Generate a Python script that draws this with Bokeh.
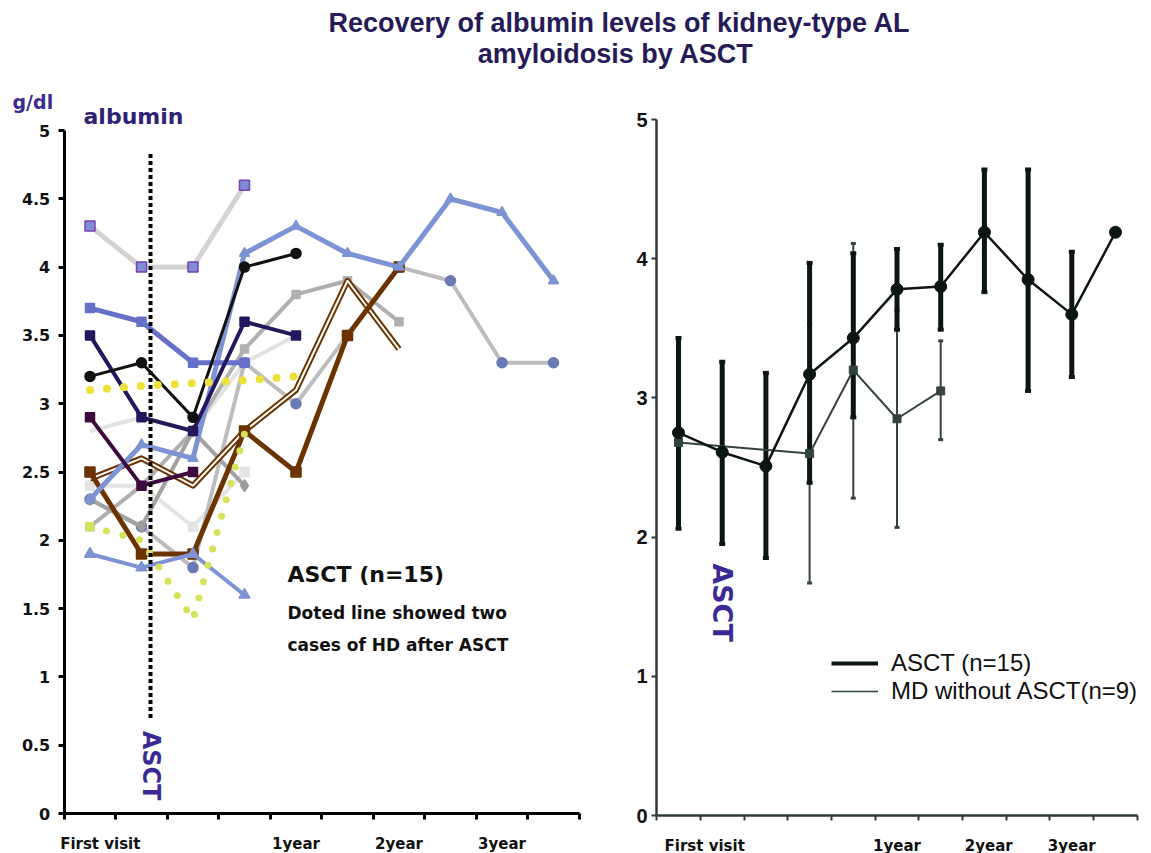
import math
from bokeh.plotting import figure
from bokeh.models import (Range1d, FixedTicker, NumeralTickFormatter, Label, Legend,
                          LegendItem, Whisker, TeeHead, ColumnDataSource)
from bokeh.layouts import column, row
from bokeh.embed import file_html
from bokeh.resources import INLINE
from bokeh.core.properties import value

# ------------------------------------------------------------------ data
TITLE_LINES = ["Recovery of albumin levels of kidney-type AL", "amyloidosis  by ASCT"]

# left panel: individual patients (albumin g/dl per visit slot, starting at first visit)
L_TICK_LABELS = ["First visit", "1year", "2year", "3year"]
L_TICK_POS = [0.2, 4, 6, 8]
L_SLOTS = 10

pt_lavender = [4.3, 4.0, 4.0, 4.6]
pt_violet = [3.7, 3.6, 3.3, 3.3]
pt_skyblue_long = [2.3, 2.7, 2.6, 4.1, 4.3, 4.1, 4.0, 4.5, 4.4, 3.9]
pt_skyblue_low = [1.9, 1.8, 1.9, 1.6]
pt_black = [3.2, 3.3, 2.9, 4.0, 4.1]
pt_navy = [3.5, 2.9, 2.8, 3.6, 3.5]
pt_pale = [2.8, 2.9, 2.8, 3.3, 3.5]
pt_plum = [2.9, 2.4, 2.5]
pt_pale2 = [2.4, 2.4, 2.1, 2.5]
pt_brown = [2.5, 1.9, 1.9, 2.8, 2.5, 3.5, 4.0]
pt_brown_double = [2.45, 2.6, 2.4, 2.8, 3.1, 3.9, 3.4]
pt_gray_diamond = [2.3, 2.1, 2.8, 2.4]
pt_gray_circle = [2.3, 2.1, 1.8, 3.3, 3.0, 3.5, 4.0, 3.9, 3.3, 3.3]
pt_gray_square = [2.1, 2.4, 2.8, 3.4, 3.8, 3.9, 3.6]
hd_yellow = [3.1, 3.13, 3.15, 3.17, 3.2]
hd_lime = [2.1, 2.0, 1.42, 2.78]

ASCT_AT = 1.175
ASCT_SPAN = [0.7, 4.85]

# right panel: mean with range bars
R_TICK_LABELS = ["First visit", "1year", "2year", "3year"]
R_TICK_POS = [0.6, 5.0, 7.1, 9.0]
R_SLOTS = 11

asct_x = [0, 1, 2, 3, 4, 5, 6, 7, 8, 9, 10]
asct_mean = [2.75, 2.61, 2.51, 3.17, 3.43, 3.78, 3.80, 4.19, 3.85, 3.60, 4.19]
asct_err_x = [0, 1, 2, 3, 4, 5, 6, 7, 8, 9]
asct_upper = [3.43, 3.26, 3.18, 3.97, 4.04, 4.07, 4.10, 4.64, 4.64, 4.05]
asct_lower = [2.06, 1.95, 1.85, 2.39, 2.86, 3.49, 3.49, 3.76, 3.05, 3.15]

md_x = [0, 3, 4, 5, 6]
md_mean = [2.68, 2.60, 3.20, 2.85, 3.05]
md_upper = [3.24, 3.53, 4.11, 3.63, 3.41]
md_lower = [2.10, 1.67, 2.28, 2.07, 2.70]

LEGEND_LABELS = ["ASCT (n=15)", "MD without ASCT(n=9)"]

# ------------------------------------------------------------------ styles
TITLE_COLOR = "#261B57"
PURPLE = "#3B2A93"
TAHOMA = "DejaVu Sans"
TOTAL_W, TOTAL_H, TITLE_H = 1151, 853, 70
LEFT_W = 620
CH_H = TOTAL_H - TITLE_H

# ------------------------------------------------------------------ title
pt = figure(width=TOTAL_W, height=TITLE_H, x_range=Range1d(0, TOTAL_W), y_range=Range1d(0, TITLE_H),
            toolbar_location=None, output_backend="svg", min_border=0)
pt.axis.visible = False
pt.grid.visible = False
pt.outline_line_color = None
pt.title.visible = False
pt.text(x=[619, 619], y=[48, 17], text=TITLE_LINES, text_font=value("Liberation Sans"),
        text_font_style="bold", text_font_size="27px", text_color=TITLE_COLOR,
        text_align="center", text_baseline="middle")

# ------------------------------------------------------------------ left
# screen mapping: x px = 89.5 + 51.5*slot ; y px (page) = 813 - 136.6*value
LX0, LXS, LY0, LYS = 89.5, 51.5, 813.0, 136.6
pl = figure(width=LEFT_W, height=CH_H,
            x_range=Range1d(-LX0 / LXS, (LEFT_W - LX0) / LXS),
            y_range=Range1d((LY0 - TOTAL_H) / LYS, (LY0 - TITLE_H) / LYS),
            toolbar_location=None, output_backend="svg", min_border=0)
pl.grid.visible = False
pl.outline_line_color = None
pl.title.visible = False


def draw(p, vals, color, width, marker=None, msize=9, fill=None, mline=None, dash="solid", cap="butt"):
    xs = list(range(len(vals)))
    p.line(xs, vals, line_color=color, line_width=width, line_dash=dash, line_cap=cap,
           line_join="round")
    if marker:
        p.scatter(xs, vals, marker=marker, size=msize, fill_color=fill or color,
                  line_color=mline or (fill or color), line_width=1.5)


draw(pl, pt_pale, "#E2E2E2", 4)
draw(pl, pt_pale2, "#E4E4E4", 4, "square", 9, "#E4E4E4")
draw(pl, pt_gray_circle, "#BDBDBD", 4, "circle", 10, "#6A7AB5")
draw(pl, pt_gray_square, "#B0B0B0", 4, "square", 8, "#B0B0B0")
draw(pl, pt_gray_diamond, "#A2A2A2", 4, "diamond", 12, "#9C9C9C")
draw(pl, pt_lavender, "#D3D3D3", 5, "square", 10, "#7D8ED4", "#7B3FB0")
xs_d = list(range(len(pt_brown_double)))
pl.line(xs_d, pt_brown_double, line_color="#6B3300", line_width=6, line_join="round")
pl.line(xs_d, pt_brown_double, line_color="white", line_width=2, line_join="round")
draw(pl, pt_brown, "#6B3300", 5, "square", 10, "#6B3300")
draw(pl, pt_skyblue_low, "#7E93D3", 4, "triangle", 11, "#7E93D3")
draw(pl, pt_skyblue_long, "#7E93D3", 5, "triangle", 10, "#7E93D3")
draw(pl, pt_violet, "#6670C8", 5, "square", 9, "#6670C8")
draw(pl, pt_plum, "#3C0A3C", 4, "square", 9, "#3C0A3C")
draw(pl, pt_navy, "#24175C", 4, "square", 9, "#24175C")
draw(pl, pt_black, "#111111", 3, "circle", 10, "#111111")
draw(pl, hd_lime, "#D6E35A", 7, dash="0 17", cap="round")
pl.scatter([0], hd_lime[:1], marker="square", size=8, fill_color="#D6E35A", line_color="#D6E35A")
draw(pl, hd_yellow, "#EDE23A", 8, dash="0 17", cap="round")

pl.segment(x0=[ASCT_AT], y0=[ASCT_SPAN[0]], x1=[ASCT_AT], y1=[ASCT_SPAN[1]],
           line_color="black", line_width=4, line_dash="4 3")

pl.xaxis.ticker = FixedTicker(ticks=L_TICK_POS, minor_ticks=[i - 0.5 for i in range(L_SLOTS + 1)])
pl.xaxis.major_label_overrides = {float(k): v for k, v in zip(L_TICK_POS, L_TICK_LABELS)}
pl.xaxis.fixed_location = 0
pl.xaxis.bounds = (-0.5, L_SLOTS - 0.5)
pl.yaxis.ticker = FixedTicker(ticks=[i * 0.5 for i in range(11)], minor_ticks=[])
pl.yaxis.formatter = NumeralTickFormatter(format="0.[0]")
pl.yaxis.fixed_location = -0.5
pl.yaxis.bounds = (0, 5)
for ax in (pl.xaxis[0], pl.yaxis[0]):
    ax.axis_line_width = 3
    ax.axis_line_color = "black"
    ax.major_label_text_font = TAHOMA
    ax.major_label_text_font_style = "bold"
    ax.major_label_text_color = "#111111"
pl.xaxis.major_tick_line_color = None
pl.xaxis.major_tick_out = 0
pl.xaxis.major_tick_in = 0
pl.xaxis.minor_tick_line_width = 3
pl.xaxis.minor_tick_line_color = "black"
pl.xaxis.minor_tick_out = 6
pl.xaxis.minor_tick_in = 0
pl.xaxis.major_label_text_font_size = "15px"
pl.xaxis.major_label_standoff = 15
pl.yaxis.major_tick_line_width = 3
pl.yaxis.major_tick_out = 6
pl.yaxis.major_tick_in = 0
pl.yaxis.minor_tick_line_color = None
pl.yaxis.major_label_text_font_size = "16px"
pl.yaxis.major_label_standoff = 8


def lab(p, x, y, text, size, color, align="left", angle=0.0, font=TAHOMA, style="bold"):
    p.add_layout(Label(x=x, y=y, text=text, text_font=font, text_font_style=style,
                       text_font_size=size, text_color=color, text_align=align,
                       text_baseline="middle", angle=angle))


lab(pl, -1.505, 5.205, "g/dl", "19px", "#3A2D8E")
lab(pl, -0.126, 5.102, "albumin", "22px", "#2F2275")
lab(pl, 1.194, 0.351, "ASCT", "24px", PURPLE, align="center", angle=-math.pi / 2)
lab(pl, 3.835, 1.75, "ASCT (n=15)", "22px", "#111111")
lab(pl, 3.835, 1.471, "Doted line showed two", "17px", "#111111")
lab(pl, 3.835, 1.23, "cases of HD after ASCT", "17px", "#111111")

# ------------------------------------------------------------------ right
# screen mapping: x px (page) = 678 + 43.7*slot ; y px = 815 - 139.2*value
RX0, RXS, RY0, RYS = 678.0, 43.7, 815.0, 139.2
pr = figure(width=TOTAL_W - LEFT_W, height=CH_H,
            x_range=Range1d((LEFT_W - RX0) / RXS, (TOTAL_W - RX0) / RXS),
            y_range=Range1d((RY0 - TOTAL_H) / RYS, (RY0 - TITLE_H) / RYS),
            toolbar_location=None, output_backend="svg", min_border=0)
pr.grid.visible = False
pr.outline_line_color = None
pr.title.visible = False

MD_COL = "#34433F"
ASCT_COL = "#0B1512"

md_err = ColumnDataSource(dict(x=md_x, up=md_upper, lo=md_lower))
pr.add_layout(Whisker(source=md_err, base="x", upper="up", lower="lo", dimension="height",
                      line_color=MD_COL, line_width=2,
                      upper_head=TeeHead(size=5, line_width=3, line_color=MD_COL),
                      lower_head=TeeHead(size=5, line_width=3, line_color=MD_COL)))
md_line = pr.line(md_x, md_mean, line_color=MD_COL, line_width=2)
pr.scatter(md_x, md_mean, marker="square", size=8, fill_color=MD_COL, line_color=MD_COL)

asct_err = ColumnDataSource(dict(x=asct_err_x, up=asct_upper, lo=asct_lower))
pr.add_layout(Whisker(source=asct_err, base="x", upper="up", lower="lo", dimension="height",
                      line_color=ASCT_COL, line_width=5,
                      upper_head=TeeHead(size=6, line_width=4, line_color=ASCT_COL),
                      lower_head=TeeHead(size=6, line_width=4, line_color=ASCT_COL)))
asct_line = pr.line(asct_x, asct_mean, line_color=ASCT_COL, line_width=2.5)
pr.scatter(asct_x, asct_mean, marker="circle", size=12, fill_color=ASCT_COL, line_color=ASCT_COL)

# legend keys (same data, hidden in plot, drawn only in legend)
leg_a = pr.line(asct_x, asct_mean, line_color=ASCT_COL, line_width=4, visible=False)
leg_m = pr.line(md_x, md_mean, line_color=MD_COL, line_width=1.5, visible=False)
legend = Legend(items=[LegendItem(label=LEGEND_LABELS[0], renderers=[leg_a]),
                       LegendItem(label=LEGEND_LABELS[1], renderers=[leg_m])],
                location=(211, 148), border_line_color=None, background_fill_alpha=0,
                inactive_fill_alpha=0,
                label_text_font="Liberation Sans", label_text_font_size="24px",
                label_text_color="#111111", glyph_width=47, glyph_height=20,
                label_standoff=13, padding=0, margin=0, spacing=0)
pr.add_layout(legend)

pr.xaxis.ticker = FixedTicker(ticks=R_TICK_POS, minor_ticks=[i - 0.5 for i in range(R_SLOTS + 1)])
pr.xaxis.major_label_overrides = {float(k): v for k, v in zip(R_TICK_POS, R_TICK_LABELS)}
pr.xaxis.fixed_location = 0
pr.xaxis.bounds = (-0.5, R_SLOTS - 0.5)
pr.yaxis.ticker = FixedTicker(ticks=[0, 1, 2, 3, 4, 5], minor_ticks=[])
pr.yaxis.fixed_location = -0.5
pr.yaxis.bounds = (0, 5)
for ax in (pr.xaxis[0], pr.yaxis[0]):
    ax.axis_line_width = 2.5
    ax.axis_line_color = "#2E3B38"
    ax.major_label_text_color = "#111111"
    ax.major_label_text_font_style = "bold"
pr.xaxis.major_label_text_font = TAHOMA
pr.xaxis.major_label_text_font_size = "15px"
pr.xaxis.major_tick_line_color = None
pr.xaxis.major_tick_out = 0
pr.xaxis.major_tick_in = 0
pr.xaxis.minor_tick_line_width = 2
pr.xaxis.minor_tick_line_color = "#2E3B38"
pr.xaxis.minor_tick_out = 5
pr.xaxis.minor_tick_in = 0
pr.xaxis.major_label_standoff = 16
pr.yaxis.major_label_text_font = "Liberation Sans"
pr.yaxis.major_label_text_font_size = "20px"
pr.yaxis.major_tick_line_width = 2
pr.yaxis.major_tick_line_color = "#2E3B38"
pr.yaxis.major_tick_out = 5
pr.yaxis.major_tick_in = 0
pr.yaxis.minor_tick_line_color = None
pr.yaxis.major_label_standoff = 4

lab(pr, 1.007, 1.53, "ASCT", "27px", PURPLE, align="center", angle=-math.pi / 2)

layout = column(pt, row(pl, pr))
open("out.html", "w").write(file_html(layout, INLINE))
